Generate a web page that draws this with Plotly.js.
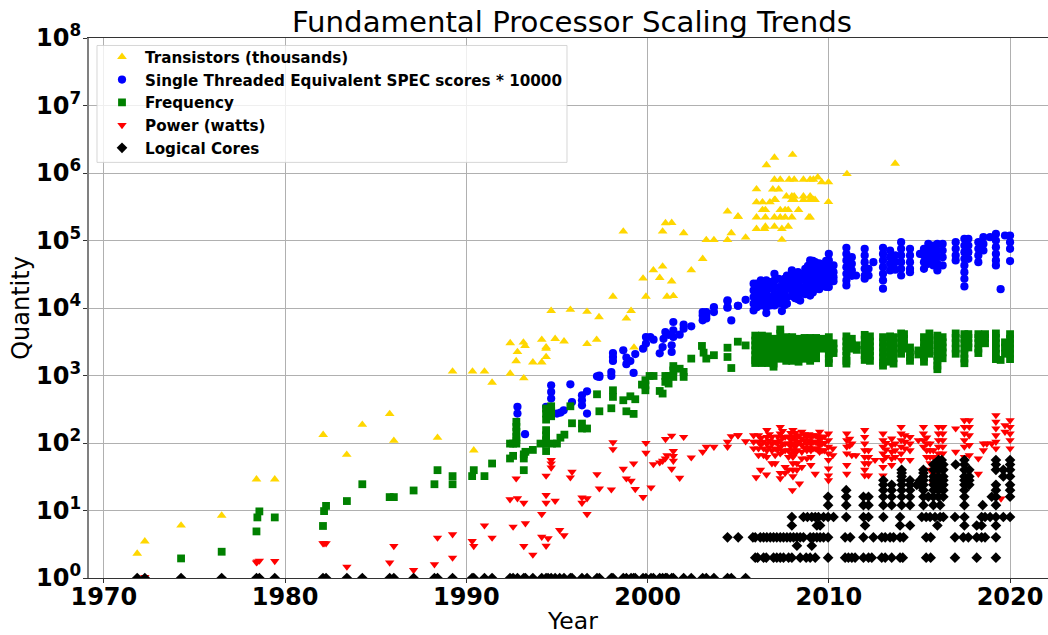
<!DOCTYPE html>
<html>
<head>
<meta charset="utf-8">
<script src="https://cdn.plot.ly/plotly-3.0.1.min.js"></script>
<style>html,body{margin:0;padding:0;background:#fff;overflow:hidden}</style>
</head>
<body>
<div id="chart" style="width:1057px;height:635px"></div>
<script>
// Every row is [year, value, value, ...]
const transistors = [
[1971.84,2.3],[1972.26,3.5],[1974.26,6],[1976.5,8.4],[1978.42,29],[1979.43,29],[1982.1,132],[1983.4,67],[1984.26,187],[1985.77,270],[1986,108],
[1988.41,120],[1989.24,1150],[1990.34,1150],[1990.41,78],[1991,1150],[1991.42,785],[1992.42,1070,3020],[1992.75,1640],[1992.82,2230],[1993.15,3090],[1993.17,912],[1993.24,2750],[1993.67,1570],
[1994.16,1570,3390],[1994.4,1880,2630,2500],[1994.68,9100],[1994.9,3500],[1995.39,3210],[1995.74,9440],[1996.66,8810,2930],[1997.19,3390],[1997.32,7350],[1998.09,14800],[1998.66,136000],[1998.83,7010],[1999.09,9100],[1999.25,2610],
[1999.75,27400],[1999.91,14800],[2000.32,36400],[2000.67,28000],[2000.83,41300,136000],[2000.99,181000],[2001.07,14800],[2001.33,183000,24800],[2001.42,15100],[2001.99,129000],[2002.41,36400],[2003.04,53600],[2003.24,102000],[2003.66,102000],
[2004.41,102000,269000],[2004.62,129000],[2004.98,226000],[2005,226000],[2005.41,111000],
[2006.01,575000,369000,221000,149000],[2006.34,369000,284000],[2006.45,149000],[2006.5,284000,221000,161000],[2006.56,1310000],[2006.75,369000],[2006.91,574000],
[2007,1690000,798000,400000,221000,161000],[2007.04,400000],[2007.23,574000],[2007.32,798000,284000,221000],[2007.41,149000,103000],[2007.66,452000],[2007.59,284000,221000],[2007.76,284000,161000],[2007.81,798000],
[2007.96,400000,452000,221000],[2008,1870000],[2008.09,798000,452000,400000],[2008.33,284000],[2008.6,798000,452000,400000],[2008.9,221000],[2008.97,798000,452000,400000,221000],[2009.15,798000,400000],[2009.24,400000],[2009.39,865000],[2009.61,730000],[2009.98,730000,372000],[2011,968000],[2013.66,1380000]
];
const singleThreadScores = [
[1992.82,343,273],[1993.24,135],[1994.4,343],[1994.68,716,571,455],[1995,273],[1995.2,282],[1995.37,305],[1995.74,741],[1995.83,405],[1996.38,509,430,362],[1996.66,583,273],
[1997.21,973],[1997.34,1000,950],[1998,1127,984],[1998.09,2150,1880,1640],[1998.66,2360],[1998.83,1840,1470],[1999.05,1640],[1999.23,1090],[1999.32,2080],[1999.75,2500],[1999.91,2970,3720],[2000.15,3720],[2000.33,3400],
[2000.67,2130],[2000.83,2640],[2000.88,3500],[2000.98,4400],[2001.16,4000],[2001.33,2800,2230],[2001.42,4670,6200,3720],[2001.77,4030],[2001.99,5660,4940],[2002.41,5350],[2003.04,8710,7760,6560],[2003.24,8710,7760,7000],[2003.66,10300,8710],
[2004.41,13000,12600,10300,10100],[2004.62,6550],[2005,10800],[2004.98,10800],[2005.41,13200],
[2005.85,22900,18200,14500,11600,9200],[2006.03,22900,18200,14500,11600,10300],[2006.25,25600,20400,16200,12900,10900],[2006.4,24000,19000,15000,12000],[2006.55,25600,20400,16200,12900,10300,8400],[2006.77,24200,19300,14500,12900,10900],
[2007,32100,25600,20400,16200,12900,10900],[2007.23,27100,20400,16200,12900,11600],[2007.41,25600,20400,16200,12900,9000],[2007.55,27000,21000,16500,13000,11000],[2007.69,30300,24200,19300,14500,11600],[2007.96,36000,28600,22900,18200,15000],[2008.14,32100,25600,20400,19300,14000],
[2008.3,34000,27000,22000,17000,13500],[2008.42,32100,25600,20400,16200,12900],[2008.7,38100,32100,25600,20400,19300,16000],[2008.85,42000,34000,27000,22000,18000],[2008.97,50600,40300,32100,25600,20400,15300],[2009.12,50000,40000,32000,25500,20500,17000],[2009.25,47800,38100,30300,24200,19300],[2009.47,46000,36000,29000,24200,19000],[2009.6,44000,35000,28000,22000],[2009.71,42000,34000,27000,22000],[2009.85,50000,40000,32000,25000,20500],
[2010,63500,50600,40300,32100,25600,20400],[2010.26,42700,34000,28600,25000],
[2010.97,77800,63500,50600,40300,32100,25600,21600],[2011.27,56600,45200,36000,30000],[2011.5,30300],[2011.98,75200,60000,47800,38100,30300,27100],[2012.19,38100,30300],[2012.46,47800],
[2012.99,77800,63500,50600,40300,32100,25600,19300],[2013.38,71100,56600,45200,36000],[2013.66,60000,47800,37000],[2013.99,94400,75200,60000,47800,38100,30300],[2014.48,75200,60000,47800,38100,34000],
[2015.03,63500],[2015.25,75200,60000,47800,38100],[2015.49,89100,71100,56600,45200],[2015.77,84300,67100,53600,42700],[2015.99,89100,71100,56600,45200,36000],[2016.28,89100,71100,56600,42700],
[2017,94400,75200,60000,50600],[2017.48,105800,84300,67100,53600,42700,34000,27100,20900],[2017.7,105800,84300,67100,53600],[2018.25,94400,75200,60000,47800],[2018.53,112000,89100,71100],[2018.9,112000],
[2019.22,125000,100000,79600,63500,50600,42700],[2019.48,19000],[2019.72,118600],[2020,118600,94400,75200,49500]
];
const frequency = [
[1974.26,1.95],[1976.5,2.45],[1978.42,4.9],[1978.47,7.9],[1978.58,9.7],[1979.43,7.9],[1982.09,5.9],[1982.15,9.8],[1982.26,11.7],[1983.41,13.8],[1984.26,24.5],[1985.77,15.8],[1986,15.8],
[1987.09,19.8],[1988.24,24.5],[1988.41,39.6],[1989.24,32.3,24.5],[1990.32,32.3],[1990.41,39.6],[1991,32.3],[1991.42,49.7],[1992.41,59,98],[1992.58,64.5,98],[1992.76,98,206,173,146,123,110],[1993.17,39.6,59,68],[1993.26,74],[1993.67,79],
[1994.09,98],[1994.4,98,155,130,110,76,324,273,222],[1994.68,350,298,249],[1994.73,98],[1995,98],[1995.19,120],[1995.41,133],[1995.74,350],[1995.83,196],[1996.38,194,164],[1996.66,164],[1997.21,527],[1997.34,295],[1998,327],[1998.09,604,482],
[1998.66,430],[1998.83,295],[1999.05,492],[1999.23,270],[1999.32,445],[1999.69,733],[1999.88,851,716,604],[2000.11,984],[2000.33,984],[2000.67,590],[2000.83,540],[2000.98,984,805],[2001.16,984,760],[2001.42,1380,1190,953],[2001.77,1260],[2001.99,1130,953],[2002.41,1780],
[2003,2740],[2003.09,2180],[2003.24,1780],[2003.66,2000],[2004.41,2580,1880],[2004.62,1290],[2004.98,3170],[2005.41,2790],
[2005.94,3900,3300,2800,2360,2000,1680,1530],[2006.31,3900,3300,2800,2360,2000,1680,1530],[2006.64,3800,3300,2800,2360,2000,1680,1530],[2006.95,3500,2960,2490,2100,1770,1500,1350],[2007.32,4800,4160,3500,2960,2490,2100,1770],
[2007.65,3700,3100,2600,2200,1850,1650],[2007.98,3700,3100,2600,2200,1850,1650],[2008.33,3500,3000,2500,2100,1770,1600],[2008.66,3600,3000,2500,2100,1770],[2008.97,3600,3000,2500,2100,1770,1650],[2009.3,3600,3000,2500,2100,1800],[2009.61,3500,3000,2500],[2010,3700,3000,2500,2100,1770,1530],[2010.26,3000,2500,2150],
[2010.97,3800,3200,2700,2300,1950,1650,1500],[2011.27,3500,2900,2500],[2011.54,2800,2400],[2011.98,4000,3400,2850,2400,2000,1700],[2012.27,3800,3200,2700,2300,1950,1650],[2012.99,3700,3100,2600,2200,1850,1550,1400],[2013.38,3800,3200,2700,2250,1900,1600],[2013.57,3700,3100,2600,2200,1800,1500],
[2013.99,4200,3600,3000,2500,2100],[2014.15,4100,3500,2900,2500],[2014.48,2600,2200,1850,1650],[2014.94,2350,2050],[2015.25,3700,3100,2600,2200,1850,1600],[2015.55,4200,3600,3000,2500,2100],[2015.99,3900,3300,2800,2300,1950,1650,1400,1240],[2016.28,3700,3100,2600,2200,1800],
[2017,4200,3600,3000,2500,2100],[2017.48,4100,3500,3000,2500,2100,1780,1520],[2017.7,4100,3600,3000,2600],[2018.25,4100,3600,3000,2500,2150],[2018.62,4100,3600,3000],[2019.22,4200,3600,3000,2500,2100,1750],[2019.48,1700],[2019.72,3100,2600,2100],[2020,4100,3500,2950,2500,2100,1750]
];
const power = [
[1972.26,1.03],[1978.42,1.7],[1978.47,1.75],[1978.58,1.8],[1979.43,1.78],[1982.09,3.26],[1982.15,3.26],[1982.26,3.26],[1983.41,1.47],[1985.77,1.69],[1986,2.97],[1987.09,1.31],[1988.24,1.59],[1988.41,3.95],[1989.24,4.43,2],[1990.32,3.52],[1990.41,2.97],[1991,6],[1991.42,3.95],
[1992.41,14.6],[1992.58,5.74],[1992.75,29.8],[1992.82,15.1],[1993.17,13,2.97],[1993.26,6.44],[1993.67,2.21],[1994.16,8.85,4.08],[1994.4,16.9,13,32.7,3],[1994.51,3.86],[1994.68,55.7,49.7,43.3],[1994.9,13.9],[1995.15,5.13],[1995.39,4.28],[1995.74,30.8],[1995.83,37.4],
[1996.38,15.6,13],[1996.66,15.1,8.85],[1997.21,34.5],[1997.34,21.2],[1998,20.5],[1998.09,102,81],[1998.66,41.4],[1998.83,29.8],[1999.09,27.5],[1999.23,49.7],[1999.32,20.7],[1999.75,15.8],[1999.91,100,71.4],[2000.19,21.9],[2000.32,48.5],[2000.67,51.4],[2000.83,54.5],[2000.98,58.9],
[2000.99,114],[2001.07,65.9],[2001.33,128,41.4],[2001.42,75.7,63.8,54.5],[2001.77,30.5],[2001.99,123],[2002.41,61],[2003.04,74],[2003.24,87.7],[2003.66,87.7],[2004.41,104,87.7],[2004.62,126],[2004.98,130],[2005,130],[2005.41,106],
[2005.85,130,104,83],[2005.99,31],[2006.12,130,104,83,66],[2006.23,40],[2006.25,118,95],[2006.4,104,83,66],[2006.56,34],[2006.58,155,123,98,78,62],[2006.72,135,108,86],[2006.86,123,98,78,50],[2007.04,104,83,66,50],[2007.18,125,100,80],[2007.32,173,138,110,88,70,36,30],[2007.45,150,120,96,76],[2007.59,123,98,78,44,36],[2007.78,125,98,78,62,40],[2007.9,140,112,90,70],
[2007.99,20],[2008.02,155,123,98,78,62,50,40,32],[2008.14,140,112,88,70],[2008.24,123,98,78,50,40],[2008.38,25,130,104],[2008.51,146,116,93,74,59,44],[2008.65,135,108,85],[2008.79,123,98,78,59],[2008.9,135,108,85],[2009.01,123,98,78,62,47],[2009.13,130,104,83],[2009.25,130,104,83,35],[2009.37,125,100,80],[2009.49,146,116,93,74],[2009.62,120,98,78],[2009.75,125,100,78],
[2009.98,138,110,88,70,56,42,33,28],[2010.22,83,66],[2010.99,138,110,88,70,47,35],[2011.15,115,92],[2011.27,98,66],[2011.5,66],[2011.98,155,123,98,78,62,50,40,33],[2012.19,78,62,50,33],[2012.55,56],[2012.99,138,110,88,70,56,44,33],[2013.15,100,80,62],
[2013.47,116,93,74,59,47],[2013.66,98,78,62],[2013.99,173,138,110,88,70,56],[2014.2,130,104,83],[2014.48,123,98,78,56],[2014.94,110],[2015.22,173,138,110,88],[2015.4,120,98,78,62],[2015.59,98,78,62,50,40],[2015.77,78,62,35,25],[2016.05,173,138,110,88,70],[2016.29,173,138,110,88,70],
[2017,164,74],[2017.48,217,173,138,110,88,62],[2017.75,217,173,130,93,66],[2018.25,59,35],[2018.53,98,78],[2018.72,98],[2018.99,98],[2019.22,258,206,164,130,104,83],[2019.5,15],[2019.72,183,146],[2020,217,173,138,110,83]
];
const logicalCores = [
[1971.84,1],[1972.26,1],[1974.26,1],[1976.5,1],[1978.42,1],[1978.58,1],[1979.43,1],[1982.09,1],[1982.26,1],[1983.41,1],[1984.26,1],[1985.77,1],[1986,1],
[1987.09,1],[1988.24,1],[1988.41,1],[1989.24,1],[1990.32,1],[1990.41,1],[1991,1],[1991.42,1],[1992.41,1],[1992.58,1],[1992.82,1],[1993.17,1],[1993.26,1],[1993.67,1],[1994.16,1],[1994.4,1],[1994.51,1],[1994.68,1],[1994.9,1],[1995.15,1],[1995.39,1],[1995.74,1],[1995.83,1],
[1996.38,1],[1996.66,1],[1997.21,1],[1997.34,1],[1998,1],[1998.09,1],[1998.66,1],[1998.83,1],[1999.09,1],[1999.23,1],[1999.32,1],[1999.75,1],[1999.91,1],[2000.19,1],[2000.32,1],[2000.67,1],[2000.83,1],[2000.99,1],[2001.07,1],[2001.33,1],[2001.42,1],[2001.99,1],[2002.41,1],[2003.04,1],[2003.24,1],[2003.66,1],[2004.41,1,4],[2004.62,1],[2005,4],[2005.41,1],
[2005.81,4],[2005.94,2,4],[2006.07,2],[2006.22,4],[2006.4,2,4],[2006.55,2],[2006.58,4],[2006.77,4],[2006.95,2,4],[2007.13,2,4],[2007.32,2,4],[2007.5,2,4],[2007.69,4],[2007.78,2],[2007.87,4],[2007.96,2,6,8],[2008.05,4],[2008.24,3,4],[2008.42,2,4],[2008.6,4,8],[2008.75,2],[2008.82,8],[2008.97,2,4],[2009.06,3,8],[2009.15,4],[2009.25,2,8],[2009.34,4,6],[2009.43,8],[2009.52,4,6],[2009.71,4,8],
[2009.96,2,4,8,12,16],[2010.26,8],[2010.9,2,4],[2010.96,8,12,16,20],[2011.08,2],[2011.18,4],[2011.27,2],[2011.45,2],[2011.91,2,4,8,12,16],[2012,6],[2012.19,2,8,12,16],[2012.37,2],[2012.46,4],[2012.92,2,4],[2013.01,8,12,16,20,24,28],[2013.11,2,4],[2013.38,4],[2013.47,2,12,16,20,24],[2013.57,4],
[2013.93,2,4,6,8],[2014.02,12,16,20,24,28,32,36,40],[2014.08,2],[2014.12,4],[2014.48,6,12,16,20,24,28],[2014.85,24],[2015.03,24,28],[2015.13,8],[2015.22,12,16,20,24,28,32,36,40],[2015.37,2,4,8],[2015.49,16],[2015.59,8],[2015.62,2,4],[2015.77,12,16,20,24,28,32,40,48],[2015.86,8],[2015.99,6],[2016.05,16,20,24,28,32,40,48,56],[2016.14,8,12],[2016.23,56],[2016.32,8,16,20,24,28,32,40,48],
[2016.96,2,4,8],[2017,48],[2017.42,4],[2017.48,6,8,12,16,20,24,28,32,40,48,56],[2017.7,4],[2017.75,24,28,32,40],[2018.16,2,4,6],[2018.43,4,6,8],[2018.49,12],[2018.62,4,8],[2018.9,8],[2018.99,16],[2019.22,2,4,6,8,12,16,20,24,40,48,56],[2019.63,8,32,40],[2020,8,16,20,24,32,40,48,56]
];

const seriesNames = ['Transistors (thousands)','Single Threaded Equivalent SPEC scores * 10000','Frequency','Power (watts)','Logical Cores'];
const seriesRows = [transistors,singleThreadScores,frequency,power,logicalCores];
const seriesColors = ['#ffd700','#0000ff','#008000','#ff0000','#000000'];
const seriesSymbols = ['triangle-up','circle','square','triangle-down','diamond'];
const seriesSizes = [8.5,8.2,7.8,8.2,8.2];

const xTicks = [1970,1980,1990,2000,2010,2020];
const yTicks = [1,10,100,1000,10000,100000,1000000,10000000,100000000];
const yTickLabels = ['10<sup>0</sup>','10<sup>1</sup>','10<sup>2</sup>','10<sup>3</sup>','10<sup>4</sup>','10<sup>5</sup>','10<sup>6</sup>','10<sup>7</sup>','10<sup>8</sup>'];

const FONT = '"DejaVu Sans", sans-serif';
const traces = seriesRows.map((rows,i)=>({
  type:'scatter', mode:'markers', name:seriesNames[i],
  x:rows.flatMap(r=>r.slice(1).map(()=>r[0])),
  y:rows.flatMap(r=>r.slice(1)),
  marker:{color:seriesColors[i],symbol:seriesSymbols[i],size:seriesSizes[i],line:{width:0}},
  hoverinfo:'skip'
}));

const axisCommon = {showgrid:true,gridcolor:'#b0b0b0',gridwidth:1,zeroline:false,showline:true,
  ticks:'outside',ticklen:4,tickwidth:1,tickcolor:'#333333',tickfont:{family:FONT,size:24,color:'#000',weight:'bold'}};

const W = 1057, PL = 89, PW = W - PL;
const layout = {
  width:W,height:635,paper_bgcolor:'#fff',plot_bgcolor:'#fff',
  margin:{l:PL,r:0,t:37.5,b:57,pad:0},
  font:{family:FONT,color:'#000'},
  title:{text:'Fundamental Processor Scaling Trends',font:{family:FONT,size:29.2,color:'#000'},x:572/W,xref:'container',xanchor:'center',y:1-22/635,yref:'container',yanchor:'middle'},
  xaxis:Object.assign({},axisCommon,{range:[1969.18,2022.59],tickmode:'array',tickvals:xTicks,ticktext:xTicks.map(String),mirror:true,linecolor:'#333333',linewidth:1,ticklabelstandoff:-7,
    title:{text:'Year',font:{family:FONT,size:23.5,color:'#000'},standoff:14}}),
  yaxis:Object.assign({},axisCommon,{type:'log',range:[0,8],tickmode:'array',tickvals:yTicks,ticktext:yTickLabels,linecolor:'#808080',linewidth:2,ticklabelstandoff:-3,
    title:{text:'Quantity',font:{family:FONT,size:24,color:'#000'},standoff:0}}),
  legend:{x:10/PW,y:0.9955,xanchor:'left',yanchor:'top',bgcolor:'rgba(0,0,0,0)',borderwidth:0,
    font:{family:FONT,size:15.2,color:'#000',weight:'bold'},itemwidth:36,itemclick:false,itemdoubleclick:false},
  shapes:[{type:'rect',xref:'paper',yref:'paper',layer:'above',x0:(97-PL)/PW,x1:(567-PL)/PW,y0:1-(162-37.5)/540.5,y1:1-(45-37.5)/540.5,
    fillcolor:'rgba(255,255,255,0.8)',line:{color:'rgba(204,204,204,0.8)',width:1}}]
};
Plotly.newPlot('chart',traces,layout,{displayModeBar:false});
</script>
</body>
</html>
